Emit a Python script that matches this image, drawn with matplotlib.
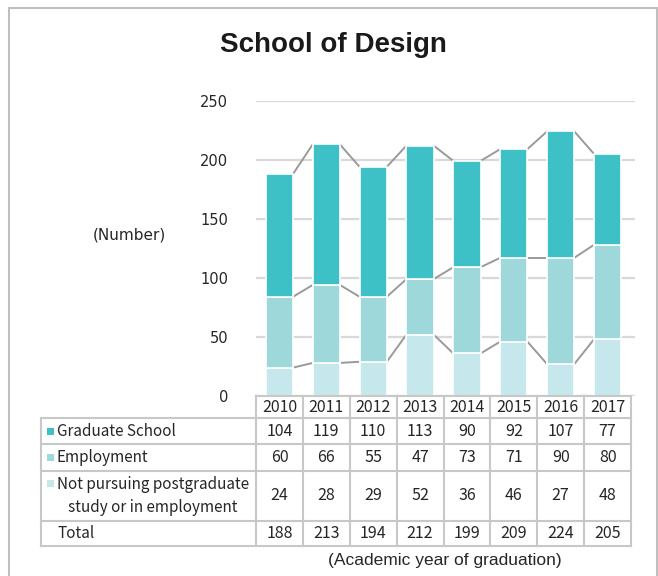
import numpy as np
import matplotlib
matplotlib.use('Agg')
import matplotlib.pyplot as plt
from matplotlib.patches import Rectangle
from matplotlib.lines import Line2D

# ---------------- data ----------------
years = ['2010', '2011', '2012', '2013', '2014', '2015', '2016', '2017']
graduate_school = [104, 119, 110, 113, 90, 92, 107, 77]
employment = [60, 66, 55, 47, 73, 71, 90, 80]
not_pursuing = [24, 28, 29, 52, 36, 46, 27, 48]
totals = [188, 213, 194, 212, 199, 209, 224, 205]
series_labels = ['Graduate School', 'Employment',
                 'Not pursuing postgraduate\nstudy or in employment']
y_ticks = [0, 50, 100, 150, 200, 250]

# ---------------- style ----------------
c_grad = '#3EC1C6'
c_emp = '#9ED8DB'
c_not = '#C6E8EC'
c_series_line = '#9A9A9A'
c_grid = '#D9D9D9'
c_table = '#C8C8C8'
c_text = '#262626'

W, H = 658, 576
fig = plt.figure(figsize=(W / 100, H / 100), dpi=100)


def fx(px):
    return px / W


def fy(py):
    return 1 - py / H


# outer frame
fig.patches.append(Rectangle((fx(9), fy(590)), fx(657) - fx(9), fy(8) - fy(590),
                             transform=fig.transFigure, fill=False,
                             edgecolor='#BFBFBF', lw=1.5))

ax_left, ax_right, ax_top, ax_bottom = 256, 635, 100.7, 396
col_w = (631 - 256) / len(years)
ax = fig.add_axes([fx(ax_left), fy(ax_bottom), (ax_right - ax_left) / W,
                   (ax_bottom - ax_top) / H])
n = len(years)
x = np.arange(n)
ax.set_xlim(-0.5, -0.5 + (ax_right - ax_left) / col_w)
ax.set_ylim(0, 250)

bw = 0.58
nb = np.array(not_pursuing)
eb = np.array(employment)
gb = np.array(graduate_school)
ax.bar(x, nb, bw, color=c_not, edgecolor='white', lw=1.2, zorder=3)
ax.bar(x, eb, bw, bottom=nb, color=c_emp, edgecolor='white', lw=1.2, zorder=3)
ax.bar(x, gb, bw, bottom=nb + eb, color=c_grad, edgecolor='white', lw=1.2, zorder=3)

for cum in [nb, nb + eb, nb + eb + gb]:
    for i in range(n - 1):
        ax.plot([x[i] + bw / 2, x[i + 1] - bw / 2], [cum[i], cum[i + 1]],
                color=c_series_line, lw=1.4, zorder=2, solid_capstyle='butt')

ax.set_yticks(y_ticks)
ax.set_yticklabels([str(t) for t in y_ticks], fontsize=10.5, color=c_text,
                   family='DejaVu Sans')
ax.set_xticks([])
ax.tick_params(axis='y', length=0, pad=20)
ax.grid(axis='y', color=c_grid, lw=1.6, zorder=0)
ax.set_axisbelow(True)
for s in ax.spines.values():
    s.set_visible(False)

# title & labels
fig.text(fx(333.5), fy(45), 'School of Design', ha='center', va='center',
         fontsize=20, fontweight='bold', family='Liberation Sans', color='#1a1a1a')
fig.text(fx(129), fy(235), '(Number)', ha='center', va='center',
         fontsize=11, family='DejaVu Sans', color=c_text)
fig.text(fx(445), fy(561), '(Academic year of graduation)', ha='center', va='center',
         fontsize=12.5, family='Liberation Sans', color=c_text)

# ---------------- table ----------------
tab_left, tab_lab_right, tab_right = 41, 256, 631
row_y = [396, 418, 444, 471, 521, 546]


def hline(y, x0, x1):
    fig.lines.append(Line2D([fx(x0), fx(x1)], [fy(y), fy(y)], transform=fig.transFigure,
                            color=c_table, lw=1.5))


def vline(xp, y0, y1):
    fig.lines.append(Line2D([fx(xp), fx(xp)], [fy(y0), fy(y1)], transform=fig.transFigure,
                            color=c_table, lw=1.5))


hline(row_y[0], tab_lab_right, tab_right)
for y in row_y[1:]:
    hline(y, tab_left, tab_right)
vline(tab_left, row_y[1], row_y[-1])
for k in range(n + 1):
    vline(tab_lab_right + k * col_w, row_y[0], row_y[-1])

tfont = dict(family=['Noto Sans CJK JP', 'DejaVu Sans'], fontsize=11.5, color=c_text)
lfont = dict(family=['Noto Sans CJK JP', 'DejaVu Sans'], fontsize=11, color=c_text)
for i, yr in enumerate(years):
    cx = tab_lab_right + (i + 0.5) * col_w
    fig.text(fx(cx), fy((row_y[0] + row_y[1]) / 2), yr, ha='center', va='center', **tfont)

rows = [graduate_school, employment, not_pursuing, totals]
labels = series_labels + ['Total']
sq_colors = [c_grad, c_emp, c_not, None]
for r, (vals, lab, sc) in enumerate(zip(rows, labels, sq_colors)):
    yc = (row_y[r + 1] + row_y[r + 2]) / 2
    for i, v in enumerate(vals):
        cx = tab_lab_right + (i + 0.5) * col_w
        fig.text(fx(cx), fy(yc), str(v), ha='center', va='center', **tfont)
    if '\n' in lab:
        fig.text(fx(57), fy(yc), lab, ha='left', va='center', multialignment='center',
                 linespacing=1.45, **lfont)
        sq_y = yc - 13
    else:
        fig.text(fx(57), fy(yc), lab, ha='left', va='center', **lfont)
        sq_y = yc
    if sc is not None:
        fig.patches.append(Rectangle((fx(47), fy(sq_y + 3.5)), fx(7), 7 / H,
                                     transform=fig.transFigure, color=sc, lw=0))

fig.savefig('out.png', dpi=100)
